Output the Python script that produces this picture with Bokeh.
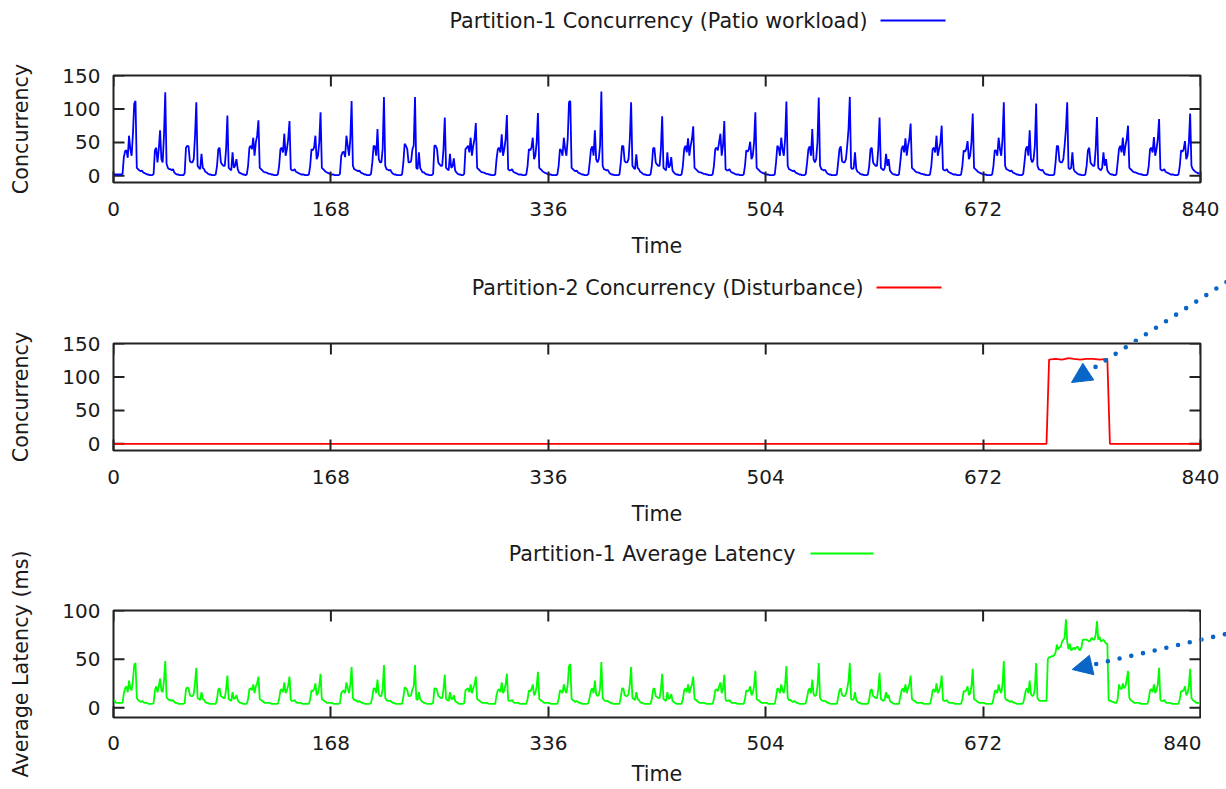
import numpy as np
from bokeh.plotting import figure
from bokeh.layouts import column, row
from bokeh.models import FixedTicker, Range1d, Arrow, NormalHead
from bokeh.core.properties import value
from bokeh.embed import file_html
from bokeh.resources import INLINE

FONT = "DejaVu Sans"
INK = "#1a1a1a"
FRAME = "#222222"
POINTER = "#0A66C6"
TICK_FONT = "20px"
TEXT_FONT = "20.7px"

TIME_TICKS = [0, 168, 336, 504, 672, 840]
CONC_TICKS = [0, 50, 100, 150]
LAT_TICKS = [0, 50, 100]

# Partition-1 concurrency under the Patio workload, hourly, one row per day
patio_concurrency = [
    [2, 2, 2, 2, 2, 2, 2, 3, 28, 37, 38, 27, 60, 40, 30, 62, 108, 112, 12, 10, 8, 7, 8, 5],
    [4, 3, 2, 2, 1, 1, 1, 3, 38, 42, 20, 40, 68, 25, 20, 60, 125, 18, 12, 10, 10, 8, 10, 5],
    [3, 2, 2, 1, 1, 1, 1, 4, 42, 45, 44, 22, 20, 20, 25, 60, 110, 15, 12, 10, 33, 12, 10, 6],
    [5, 3, 2, 2, 1, 1, 1, 2, 15, 40, 42, 20, 17, 15, 15, 40, 90, 12, 10, 8, 35, 12, 15, 25],
    [10, 5, 4, 3, 2, 2, 1, 2, 15, 42, 45, 40, 57, 30, 50, 60, 83, 12, 10, 8, 6, 5, 5, 4],
    [3, 3, 2, 2, 1, 1, 1, 2, 15, 40, 42, 35, 63, 30, 40, 55, 82, 10, 8, 8, 10, 6, 5, 4],
    [3, 2, 2, 2, 1, 1, 1, 2, 15, 40, 38, 42, 60, 25, 30, 50, 95, 12, 10, 8, 6, 5, 4, 3],
    [2, 2, 2, 1, 1, 1, 1, 3, 30, 35, 36, 28, 60, 45, 30, 55, 112, 15, 10, 9, 8, 7, 8, 5],
    [4, 3, 2, 2, 1, 1, 1, 3, 20, 45, 44, 30, 70, 25, 20, 20, 40, 118, 15, 10, 9, 8, 9, 5],
    [3, 2, 2, 1, 1, 1, 1, 2, 20, 48, 45, 40, 20, 20, 22, 40, 45, 118, 12, 10, 35, 12, 8, 5],
    [5, 3, 2, 2, 1, 1, 1, 3, 45, 45, 40, 20, 17, 15, 15, 40, 87, 12, 10, 8, 33, 12, 14, 26],
    [8, 5, 3, 2, 2, 1, 1, 3, 40, 42, 45, 35, 57, 30, 45, 55, 79, 12, 10, 8, 6, 5, 5, 4],
    [3, 3, 2, 2, 1, 1, 1, 2, 25, 40, 42, 35, 62, 30, 40, 55, 91, 10, 8, 8, 10, 6, 5, 4],
    [3, 2, 2, 2, 1, 1, 1, 2, 15, 40, 38, 42, 57, 25, 30, 50, 94, 12, 10, 8, 6, 5, 4, 3],
    [2, 2, 2, 1, 1, 1, 1, 2, 15, 40, 38, 30, 57, 40, 30, 55, 110, 112, 12, 10, 8, 7, 8, 5],
    [4, 3, 2, 2, 1, 1, 1, 3, 20, 40, 44, 30, 68, 25, 20, 25, 45, 126, 15, 10, 9, 8, 9, 5],
    [3, 2, 2, 1, 1, 1, 1, 2, 20, 45, 44, 22, 20, 20, 25, 55, 110, 15, 12, 10, 32, 12, 10, 6],
    [5, 3, 2, 2, 1, 1, 1, 2, 15, 41, 42, 20, 17, 15, 15, 40, 89, 12, 10, 8, 35, 12, 15, 28],
    [8, 5, 3, 2, 2, 1, 1, 2, 15, 40, 45, 35, 56, 30, 45, 55, 74, 12, 10, 8, 6, 5, 5, 4],
    [3, 3, 2, 2, 1, 1, 1, 2, 15, 40, 42, 38, 50, 63, 30, 45, 82, 10, 8, 8, 10, 6, 5, 4],
    [3, 2, 2, 2, 1, 1, 1, 2, 15, 38, 36, 40, 51, 25, 30, 50, 95, 12, 10, 8, 6, 5, 4, 3],
    [2, 2, 2, 1, 1, 1, 1, 2, 20, 45, 42, 30, 57, 40, 30, 55, 111, 15, 10, 9, 8, 7, 8, 5],
    [4, 3, 2, 2, 1, 1, 1, 3, 20, 40, 44, 30, 70, 25, 20, 25, 50, 117, 15, 10, 9, 8, 9, 5],
    [3, 2, 2, 1, 1, 1, 1, 2, 20, 40, 44, 22, 20, 20, 25, 45, 70, 118, 12, 10, 12, 35, 10, 6],
    [5, 3, 2, 2, 1, 1, 1, 2, 15, 40, 42, 20, 17, 15, 15, 40, 87, 12, 10, 8, 12, 33, 15, 25],
    [8, 5, 3, 2, 2, 1, 1, 2, 20, 40, 45, 35, 56, 30, 45, 55, 78, 12, 10, 8, 6, 5, 5, 4],
    [3, 3, 2, 2, 1, 1, 1, 2, 15, 40, 42, 35, 60, 30, 40, 50, 75, 10, 8, 8, 10, 6, 5, 4],
    [3, 2, 2, 2, 1, 1, 1, 2, 15, 38, 36, 40, 52, 25, 30, 50, 93, 12, 10, 8, 6, 5, 4, 3],
    [2, 2, 2, 1, 1, 1, 1, 2, 15, 38, 38, 30, 57, 40, 30, 55, 110, 15, 10, 9, 8, 7, 8, 5],
    [4, 3, 2, 2, 1, 1, 1, 3, 20, 40, 44, 30, 68, 25, 20, 25, 45, 108, 15, 10, 9, 8, 9, 5],
    [3, 2, 2, 1, 1, 1, 1, 2, 20, 45, 44, 22, 20, 20, 25, 45, 70, 110, 12, 10, 12, 35, 10, 6],
    [5, 3, 2, 2, 1, 1, 1, 2, 15, 38, 42, 20, 17, 15, 15, 40, 88, 12, 10, 8, 12, 35, 15, 25],
    [8, 5, 3, 2, 2, 1, 1, 2, 20, 40, 45, 35, 57, 30, 45, 55, 75, 12, 10, 8, 6, 5, 5, 4],
    [3, 3, 2, 2, 1, 1, 1, 2, 15, 40, 42, 35, 58, 30, 40, 55, 85, 10, 8, 8, 10, 6, 5, 4],
    [3, 2, 2, 2, 1, 1, 1, 2, 15, 38, 36, 40, 52, 25, 30, 50, 93, 15, 10, 8, 6, 5, 4, 3],
]

# Partition-2 disturbance: (hour, concurrency) breakpoints
disturbance_hours = [0, 721, 723, 728, 733, 738, 742, 747, 752, 757, 762, 768, 770, 840]
disturbance_conc = [0, 0, 126, 127, 126, 128, 127, 126, 127, 127, 126, 127, 0, 0]

# Partition-1 average latency in ms, hourly, one row per day
latency_ms = [
    [8, 7, 5, 5, 5, 5, 5, 5, 15, 20, 22, 16, 28, 20, 18, 28, 44, 46, 10, 8, 7, 6, 7, 6],
    [5, 5, 5, 4, 4, 4, 4, 5, 18, 22, 16, 22, 30, 18, 16, 28, 48, 11, 9, 8, 8, 7, 8, 6],
    [5, 5, 4, 4, 4, 4, 4, 5, 19, 21, 20, 13, 12, 12, 14, 26, 41, 10, 9, 8, 16, 9, 8, 6],
    [5, 5, 4, 4, 4, 4, 4, 4, 9, 19, 20, 12, 11, 10, 10, 19, 33, 9, 8, 7, 16, 9, 10, 13],
    [8, 6, 5, 5, 4, 4, 4, 4, 9, 19, 20, 18, 24, 15, 22, 25, 32, 9, 8, 7, 6, 5, 5, 5],
    [5, 5, 4, 4, 4, 4, 4, 4, 9, 18, 19, 16, 26, 15, 18, 23, 32, 8, 7, 7, 8, 6, 5, 5],
    [5, 5, 4, 4, 4, 4, 4, 4, 9, 18, 17, 19, 25, 13, 15, 22, 35, 9, 8, 7, 6, 5, 5, 5],
    [5, 5, 4, 4, 4, 4, 4, 5, 15, 17, 18, 15, 26, 20, 15, 24, 42, 10, 8, 8, 7, 6, 7, 6],
    [5, 5, 4, 4, 4, 4, 4, 5, 11, 20, 20, 15, 29, 14, 12, 12, 19, 44, 10, 8, 7, 7, 7, 6],
    [5, 5, 4, 4, 4, 4, 4, 4, 11, 21, 20, 18, 12, 12, 13, 19, 22, 44, 9, 8, 16, 9, 7, 6],
    [5, 5, 4, 4, 4, 4, 4, 5, 20, 20, 18, 12, 11, 10, 10, 19, 34, 9, 8, 7, 16, 9, 9, 13],
    [7, 6, 5, 4, 4, 4, 4, 5, 18, 19, 20, 16, 24, 15, 20, 24, 32, 9, 8, 7, 6, 5, 5, 5],
    [5, 5, 4, 4, 4, 4, 4, 4, 13, 18, 19, 16, 26, 15, 18, 24, 35, 8, 7, 7, 8, 6, 5, 5],
    [5, 5, 4, 4, 4, 4, 4, 4, 9, 18, 17, 19, 24, 13, 15, 22, 37, 9, 8, 7, 6, 5, 5, 5],
    [5, 5, 4, 4, 4, 4, 4, 4, 9, 18, 17, 15, 24, 18, 15, 24, 43, 45, 9, 8, 7, 6, 7, 6],
    [5, 5, 4, 4, 4, 4, 4, 5, 11, 18, 20, 15, 28, 14, 12, 13, 20, 47, 10, 8, 7, 7, 7, 6],
    [5, 5, 4, 4, 4, 4, 4, 4, 11, 20, 20, 13, 12, 12, 14, 24, 42, 10, 9, 8, 16, 9, 8, 6],
    [5, 5, 4, 4, 4, 4, 4, 4, 9, 19, 20, 12, 11, 10, 10, 19, 35, 9, 8, 7, 16, 9, 10, 14],
    [7, 6, 5, 4, 4, 4, 4, 4, 9, 18, 20, 16, 24, 15, 20, 24, 32, 9, 8, 7, 6, 5, 5, 5],
    [5, 5, 4, 4, 4, 4, 4, 4, 9, 18, 19, 17, 22, 26, 15, 20, 34, 8, 7, 7, 8, 6, 5, 5],
    [5, 5, 4, 4, 4, 4, 4, 4, 9, 18, 17, 18, 22, 13, 15, 22, 38, 9, 8, 7, 6, 5, 5, 5],
    [5, 5, 4, 4, 4, 4, 4, 4, 11, 20, 19, 15, 24, 18, 15, 24, 43, 10, 8, 8, 7, 6, 7, 6],
    [5, 5, 4, 4, 4, 4, 4, 5, 11, 18, 20, 15, 29, 14, 12, 13, 22, 46, 10, 8, 7, 7, 7, 6],
    [5, 5, 4, 4, 4, 4, 4, 4, 11, 18, 20, 13, 12, 12, 14, 20, 28, 46, 9, 8, 9, 16, 8, 6],
    [5, 5, 4, 4, 4, 4, 4, 4, 9, 18, 19, 12, 11, 10, 10, 19, 36, 9, 8, 7, 9, 16, 10, 13],
    [7, 6, 5, 4, 4, 4, 4, 4, 11, 18, 20, 16, 24, 15, 20, 24, 33, 9, 8, 7, 6, 5, 5, 5],
    [5, 5, 4, 4, 4, 4, 4, 4, 9, 18, 19, 16, 25, 15, 18, 22, 33, 8, 7, 7, 8, 6, 5, 5],
    [5, 5, 4, 4, 4, 4, 4, 4, 9, 17, 17, 18, 22, 13, 15, 22, 40, 9, 8, 7, 6, 5, 5, 5],
    [5, 5, 4, 4, 4, 4, 4, 4, 9, 17, 18, 15, 24, 18, 15, 24, 48, 10, 8, 8, 7, 6, 7, 6],
    [5, 5, 4, 4, 4, 4, 4, 5, 11, 18, 20, 15, 28, 14, 12, 13, 20, 46, 10, 8, 7, 7, 7, 7],
    [7, 7, 50, 52, 52, 53, 53, 54, 57, 65, 60, 62, 63, 68, 70, 72, 91, 68, 60, 66, 59, 60, 62, 60],
    [62, 63, 60, 59, 62, 70, 70, 70, 70, 69, 68, 70, 72, 70, 70, 75, 89, 70, 73, 68, 69, 70, 68, 66],
    [66, 8, 7, 7, 6, 6, 5, 5, 9, 24, 20, 19, 25, 20, 22, 29, 38, 10, 8, 7, 6, 5, 5, 5],
    [5, 5, 4, 4, 4, 4, 4, 4, 9, 18, 19, 16, 24, 15, 18, 24, 41, 8, 7, 7, 8, 6, 5, 5],
    [5, 5, 4, 4, 4, 4, 4, 4, 9, 17, 17, 18, 22, 13, 15, 22, 40, 10, 8, 7, 6, 5, 5, 5],
]

conc_series = np.concatenate([np.array(r, dtype=float) for r in patio_concurrency])
lat_series = np.concatenate([np.array(r, dtype=float) for r in latency_ms])
hours = np.arange(len(conc_series))

# ---- page geometry (pixels) ----
PAGE_W, PAGE_H = 1226, 789
STRIP_W = 106                     # left strip carrying the value axes
FRAME_L, FRAME_R = 113, 1200      # plot box edges across the page
FRAME_H = 107
TICK_LEN = 11
HOUR_PX = (FRAME_R - FRAME_L) / 840.0
MAIN_W = PAGE_W - STRIP_W


def hour_at(px):
    return (px - FRAME_L) / HOUR_PX


def y_mapper(frame_top, y_lo, y_hi):
    per_px = (y_hi - y_lo) / FRAME_H
    return lambda py: y_hi + (frame_top - py) * per_px


def value_axis(page_top, page_bottom, frame_top, y_lo, y_hi, ticks, title):
    """Value axis with its title, laid out so its frame spans the plot box height."""
    s = figure(width=STRIP_W, height=page_bottom - page_top,
               x_range=Range1d(0, 1), y_range=Range1d(y_lo, y_hi),
               output_backend="svg", toolbar_location=None, frame_align=False,
               x_axis_type=None, y_axis_label=title,
               min_border_left=STRIP_W - 1, min_border_right=0,
               min_border_top=frame_top - page_top,
               min_border_bottom=page_bottom - frame_top - FRAME_H)
    s.grid.visible = False
    s.outline_line_color = None
    s.background_fill_color = "white"
    s.border_fill_color = "white"
    ax = s.yaxis[0]
    ax.ticker = FixedTicker(ticks=ticks)
    ax.axis_line_color = None
    ax.major_tick_in = 0
    ax.major_tick_out = 0
    ax.major_tick_line_color = None
    ax.minor_tick_line_color = None
    ax.major_label_standoff = STRIP_W - 1 - 100
    ax.major_label_text_font = FONT
    ax.major_label_text_font_size = TICK_FONT
    ax.major_label_text_color = INK
    ax.axis_label_standoff = 26
    ax.axis_label_text_font = FONT
    ax.axis_label_text_font_size = TEXT_FONT
    ax.axis_label_text_font_style = "normal"
    ax.axis_label_text_color = INK
    return s


def plot_panel(width, height, right, bottom, y_lo, y_hi, y_ticks, label_standoff, time_standoff):
    p = figure(width=width, height=height, x_range=Range1d(0, 840), y_range=Range1d(y_lo, y_hi),
               output_backend="svg", toolbar_location=None, frame_align=False,
               y_axis_location=None, x_axis_label="Time",
               min_border_left=FRAME_L - STRIP_W, min_border_right=right,
               min_border_top=1, min_border_bottom=bottom)
    p.grid.visible = False
    p.outline_line_color = FRAME
    p.outline_line_width = 2
    p.background_fill_color = "white"
    p.border_fill_color = "white"
    ax = p.xaxis[0]
    ax.ticker = FixedTicker(ticks=TIME_TICKS)
    ax.axis_line_color = None
    ax.major_tick_in = TICK_LEN
    ax.major_tick_out = 0
    ax.major_tick_line_color = FRAME
    ax.major_tick_line_width = 2
    ax.minor_tick_line_color = None
    ax.major_label_standoff = label_standoff
    ax.major_label_text_font = FONT
    ax.major_label_text_font_size = TICK_FONT
    ax.major_label_text_color = INK
    ax.axis_label_standoff = time_standoff
    ax.axis_label_text_font = FONT
    ax.axis_label_text_font_size = TEXT_FONT
    ax.axis_label_text_font_style = "normal"
    ax.axis_label_text_color = INK
    # inward ticks on the left, top and right edges of the box
    dy = TICK_LEN * (y_hi - y_lo) / FRAME_H
    dx = TICK_LEN / HOUR_PX
    n, m = len(TIME_TICKS), len(y_ticks)
    p.segment(x0=TIME_TICKS, y0=[y_hi] * n, x1=TIME_TICKS, y1=[y_hi - dy] * n,
              line_color=FRAME, line_width=2)
    p.segment(x0=[0] * m, y0=y_ticks, x1=[dx] * m, y1=y_ticks, line_color=FRAME, line_width=2)
    p.segment(x0=[840] * m, y0=y_ticks, x1=[840 - dx] * m, y1=y_ticks,
              line_color=FRAME, line_width=2)
    return p


def blank_panel(width, height, x_lo, x_hi, y_lo, y_hi):
    k = figure(width=width, height=height, x_range=Range1d(x_lo, x_hi), y_range=Range1d(y_lo, y_hi),
               output_backend="svg", toolbar_location=None, frame_align=False,
               x_axis_type=None, y_axis_type=None,
               min_border_left=0, min_border_right=0, min_border_top=0, min_border_bottom=0)
    k.grid.visible = False
    k.outline_line_color = None
    k.background_fill_color = "white"
    k.border_fill_color = "white"
    return k


def key_panel(ymap, page_top, page_bottom, text, color, text_right, line_from, line_to, line_y):
    k = blank_panel(MAIN_W, page_bottom - page_top, hour_at(STRIP_W), hour_at(PAGE_W),
                    ymap(page_bottom), ymap(page_top))
    yk = ymap(line_y)
    k.text(x=[hour_at(text_right)], y=[yk], text=[text], text_align="right",
           text_baseline="middle", text_font=value(FONT), text_font_size=TEXT_FONT, text_color=INK)
    k.line(x=[hour_at(line_from), hour_at(line_to)], y=[yk, yk], line_color=color, line_width=1.8)
    return k


def pointer(p, ymap, start, tip):
    p.add_layout(Arrow(x_start=hour_at(start[0]), y_start=ymap(start[1]),
                       x_end=hour_at(tip[0]), y_end=ymap(tip[1]),
                       line_color=POINTER, line_width=4.6, line_dash="0 12", line_cap="round",
                       end=NormalHead(size=20, fill_color=POINTER, line_color=POINTER, line_width=1)))


# pointer arrows, in page pixels
POINTER_1 = ((1236, 275), (1071, 382))
POINTER_2 = ((1236, 631), (1071.7, 669))

# vertical bands of the three panels and their plot-box tops, in page pixels
BAND_1, BAND_2, BAND_3 = (0, 266), (266, 532), (532, PAGE_H)
TOP_1, TOP_2, TOP_3 = 75, 343, 610

# ---- Partition-1 concurrency ----
map1 = y_mapper(TOP_1, -10, 150)
k1 = key_panel(map1, BAND_1[0], TOP_1 - 1, "Partition-1 Concurrency (Patio workload)", "#0000FF",
               867, 880, 945, 20)
p1 = plot_panel(MAIN_W, BAND_1[1] - TOP_1 + 1, PAGE_W - FRAME_R, BAND_1[1] - TOP_1 - FRAME_H,
                -10, 150, CONC_TICKS, 19, 15)
p1.line(hours, conc_series, line_color="#0000FF", line_width=1.8)
s1 = value_axis(*BAND_1, TOP_1, -10, 150, CONC_TICKS, "Concurrency")

# ---- Partition-2 disturbance ----
map2 = y_mapper(TOP_2, -10, 150)
k2 = key_panel(map2, BAND_2[0], TOP_2 - 1, "Partition-2 Concurrency (Disturbance)", "#FF0000",
               863, 876, 941, 287)
pointer(k2, map2, *POINTER_1)
p2 = plot_panel(MAIN_W, BAND_2[1] - TOP_2 + 1, PAGE_W - FRAME_R, BAND_2[1] - TOP_2 - FRAME_H,
                -10, 150, CONC_TICKS, 19, 15)
p2.line(disturbance_hours, disturbance_conc, line_color="#FF0000", line_width=1.8)
pointer(p2, map2, *POINTER_1)
s2 = value_axis(*BAND_2, TOP_2, -10, 150, CONC_TICKS, "Concurrency")

# ---- Partition-1 average latency ----
map3 = y_mapper(TOP_3, -10, 100)
k3 = key_panel(map3, BAND_3[0], TOP_3 - 1, "Partition-1 Average Latency", "#00FF00",
               795, 810, 873, 553)
p3 = plot_panel(FRAME_R + 1 - STRIP_W, BAND_3[1] - TOP_3 + 1, 1, BAND_3[1] - TOP_3 - FRAME_H,
                -10, 100, LAT_TICKS, 18, 9)
p3.line(hours, lat_series, line_color="#00FF00", line_width=1.8)
pointer(p3, map3, *POINTER_2)
edge3 = blank_panel(PAGE_W - FRAME_R - 1, BAND_3[1] - TOP_3 + 1, hour_at(FRAME_R + 1), hour_at(PAGE_W),
                    map3(BAND_3[1]), map3(TOP_3 - 1))
pointer(edge3, map3, *POINTER_2)
s3 = value_axis(*BAND_3, TOP_3, -10, 100, LAT_TICKS, "Average Latency (ms)")

axes_col = column(s1, s2, s3, spacing=0)
main = column(k1, p1, k2, p2, k3, row(p3, edge3, spacing=0), spacing=0)
layout = row(axes_col, main, spacing=0)
open("out.html", "w").write(file_html(layout, INLINE))
